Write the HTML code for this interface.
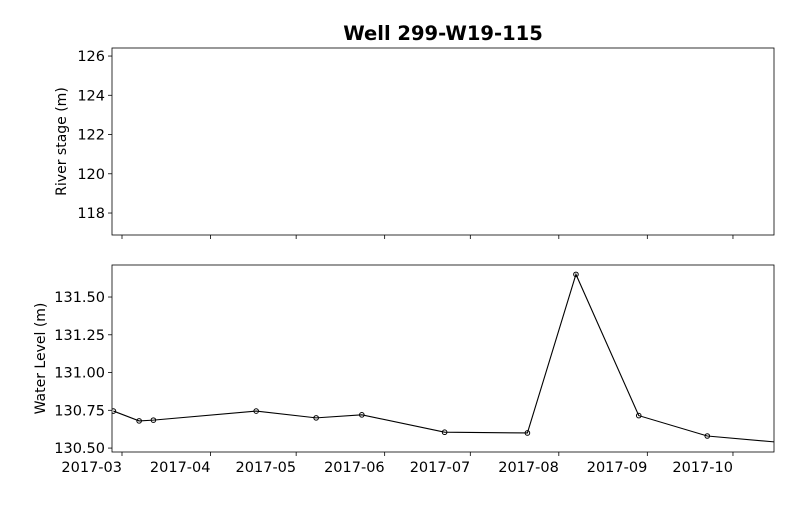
<!DOCTYPE html>
<html><head><meta charset="utf-8"><style>
html,body{margin:0;padding:0;background:#fff;}
svg text{font-family:"DejaVu Sans","Liberation Sans",sans-serif;}
</style></head><body>
<svg id="chart" width="800" height="500" xmlns="http://www.w3.org/2000/svg">
<text x="443" y="40" text-anchor="middle" font-size="19.5" font-weight="bold">Well 299-W19-115</text>
<g id="top"></g>
<g id="bot"></g>
</svg>
<script>
const dates = ["2017-02-26","2017-03-07","2017-03-12","2017-04-17","2017-05-08","2017-05-24","2017-06-22","2017-07-21","2017-08-07","2017-08-29","2017-09-22","2017-10-19"];
const levels = [130.745,130.68,130.685,130.745,130.70,130.72,130.605,130.60,131.65,130.715,130.58,130.535];
const monthTicks = ["2017-03","2017-04","2017-05","2017-06","2017-07","2017-08","2017-09","2017-10"];
const riverTicks = [118,120,122,124,126];
const levelTicks = [130.50,130.75,131.00,131.25,131.50];

const NS="http://www.w3.org/2000/svg";
const L=112,R=774;
const day0=Date.UTC(2017,2,1);
function xs(s){const p=s.split("-");const t=Date.UTC(+p[0],+p[1]-1,p[2]?+p[2]:1);return 122+(t-day0)/86400000*2.855;}
function mk(tag,attrs,parent){const e=document.createElementNS(NS,tag);for(const k in attrs)e.setAttribute(k,attrs[k]);parent.appendChild(e);return e;}
function panel(g,top,bot,ymin,ymax,ticks,fmt,ylabel,labelX,showXLabels){
  const ys=v=>bot-(v-ymin)/(ymax-ymin)*(bot-top);
  for(const t of ticks){
    const y=ys(t);
    const tl=mk("line",{x1:L-4,x2:L,y1:y,y2:y,stroke:"#000","stroke-width":0.8},g);
    
    
    const tx=mk("text",{x:L-7,y:y+5,"text-anchor":"end","font-size":14.5},g);
    tx.textContent=fmt(t);
    
    
  }
  for(const m of monthTicks){
    const x=xs(m);
    const tl=mk("line",{x1:x,x2:x,y1:bot,y2:bot+4,stroke:"#000","stroke-width":0.8},g);
    
    
    if(showXLabels){
      const tx=mk("text",{x:x,y:bot+20,"text-anchor":"end","font-size":14.5},g);
      tx.textContent=m;
      
      
    }
  }
  const yl=mk("text",{x:labelX,y:(top+bot)/2,"text-anchor":"middle","font-size":14,transform:`rotate(-90 ${labelX} ${(top+bot)/2})`},g);
  yl.textContent=ylabel;
  
  
  return ys;
}
const gt=document.getElementById("top"), gb=document.getElementById("bot");
panel(gt,48,235,116.88,126.41,riverTicks,v=>String(v),"River stage (m)",66,false);
const ys=panel(gb,265,452,130.474,131.712,levelTicks,v=>v.toFixed(2),"Water Level (m)",45,true);
const cp=mk("clipPath",{id:"clip"},gb);
mk("rect",{x:L,y:265,width:R-L,height:187},cp);
const pts=dates.map((d,i)=>[xs(d),ys(levels[i])]);
const line=mk("polyline",{points:pts.map(p=>p.join(",")).join(" "),fill:"none",stroke:"#000","stroke-width":1.1,"clip-path":"url(#clip)"},gb);


pts.forEach(p=>{
  const c=mk("circle",{cx:p[0],cy:p[1],r:2.3,fill:"none",stroke:"#000","stroke-width":1,"clip-path":"url(#clip)"},gb);
  
  
});
const f1=mk("rect",{x:L,y:48,width:R-L,height:187,fill:"none",stroke:"#000","stroke-width":0.8},gt);


const f2=mk("rect",{x:L,y:265,width:R-L,height:187,fill:"none",stroke:"#000","stroke-width":0.8},gb);


</script>
</body></html>
